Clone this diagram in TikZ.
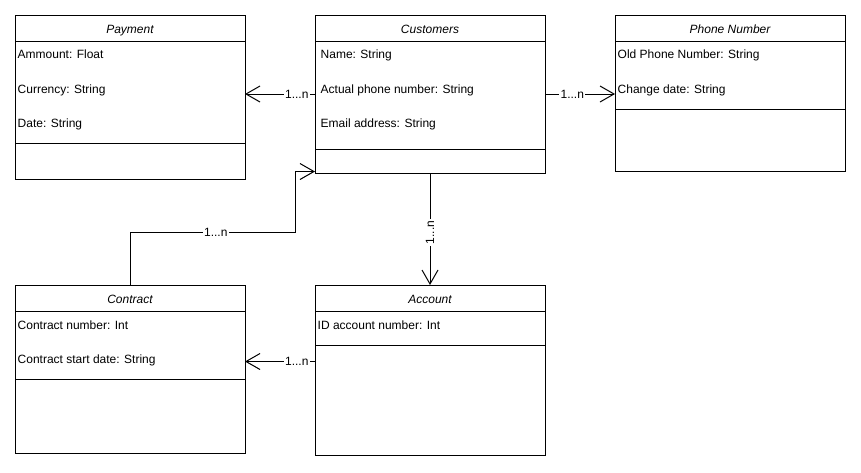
\documentclass[tikz,border=0pt]{standalone}
\usepackage{fontspec}
\setmainfont{Liberation Sans}
\usetikzlibrary{arrows.meta,calc}
\begin{document}
\begin{tikzpicture}[x=1pt,y=-1pt,
  every node/.style={font=\fontsize{12}{14}\selectfont},
  classbox/.style={draw=black, line width=1pt, anchor=north west,
    minimum width=230pt, inner sep=0pt, outer sep=0pt},
  sepline/.style={draw=black, line width=1pt},
  title/.style={anchor=base, inner sep=0pt, font=\fontsize{12}{14}\selectfont\itshape},
  attr/.style={anchor=base west, inner sep=0pt},
  assoc/.style={draw=black, line width=1pt,
    -{Straight Barb[length=14pt,width=16pt,line width=1pt]}},
  mult/.style={fill=white, inner sep=1.5pt}
]
\useasboundingbox[fill=white] (0,0) rectangle (861,472);

% ---------- Payment ----------
\node[classbox, minimum height=164pt] (pay) at (15,15) {};
\draw[sepline] ($(pay.north west)+(0,26.5)$) -- ($(pay.north east)+(0,26.5)$);
\draw[sepline] ($(pay.north west)+(0,128.5)$) -- ($(pay.north east)+(0,128.5)$);
\node[title] (payT) at ($(pay.north)+(0,18)$) {Payment};
\node[attr] (pay1) at ($(pay.north west)+(2.5,43.5)$) {Ammount: Float};
\node[attr] (pay2) at ($(pay.north west)+(2.5,78)$) {Currency: String};
\node[attr] (pay3) at ($(pay.north west)+(2.5,112)$) {Date: String};

% ---------- Customers ----------
\node[classbox, minimum height=158pt] (cust) at (315,15) {};
\draw[sepline] ($(cust.north west)+(0,26.5)$) -- ($(cust.north east)+(0,26.5)$);
\draw[sepline] ($(cust.north west)+(0,134)$) -- ($(cust.north east)+(0,134)$);
\node[title] (custT) at ($(cust.north)+(0,18)$) {Customers};
\node[attr] (cust1) at ($(cust.north west)+(5.5,43.5)$) {Name: String};
\node[attr] (cust2) at ($(cust.north west)+(5.5,78)$) {Actual phone number: String};
\node[attr] (cust3) at ($(cust.north west)+(5.5,112)$) {Email address: String};

% ---------- Phone Number ----------
\node[classbox, minimum height=156.5pt] (phone) at (615,15) {};
\draw[sepline] ($(phone.north west)+(0,26.5)$) -- ($(phone.north east)+(0,26.5)$);
\draw[sepline] ($(phone.north west)+(0,94)$) -- ($(phone.north east)+(0,94)$);
\node[title] (phoneT) at ($(phone.north)+(0,18)$) {Phone Number};
\node[attr] (phone1) at ($(phone.north west)+(2.5,43.5)$) {Old Phone Number: String};
\node[attr] (phone2) at ($(phone.north west)+(2.5,78)$) {Change date: String};

% ---------- Contract ----------
\node[classbox, minimum height=168pt] (con) at (15,285) {};
\draw[sepline] ($(con.north west)+(0,26.5)$) -- ($(con.north east)+(0,26.5)$);
\draw[sepline] ($(con.north west)+(0,94)$) -- ($(con.north east)+(0,94)$);
\node[title] (conT) at ($(con.north)+(0,18)$) {Contract};
\node[attr] (con1) at ($(con.north west)+(2.5,44)$) {Contract number: Int};
\node[attr] (con2) at ($(con.north west)+(2.5,78)$) {Contract start date: String};

% ---------- Account ----------
\node[classbox, minimum height=170pt] (acc) at (315,285) {};
\draw[sepline] ($(acc.north west)+(0,26.5)$) -- ($(acc.north east)+(0,26.5)$);
\draw[sepline] ($(acc.north west)+(0,60)$) -- ($(acc.north east)+(0,60)$);
\node[title] (accT) at ($(acc.north)+(0,18)$) {Account};
\node[attr] (acc1) at ($(acc.north west)+(2.5,44)$) {ID account number: Int};

% ---------- Associations ----------
\draw[assoc] (cust.west) -- node[mult, pos=0.26] {1...n} (cust.west -| pay.east);
\draw[assoc] (cust.east) -- node[mult, pos=0.39] {1...n} (cust.east -| phone.west);
\draw[assoc] (cust.south) -- node[mult, pos=0.53, rotate=90] {1...n} (acc.north);

\coordinate (k1) at (295,232);
\coordinate (k2) at ($(cust.south west)+(0,-1.5)$);
\draw[assoc] (con.north) |- node[mult, pos=0.76] {1...n} (k1) |- (k2);

\coordinate (k3) at ($(acc.north west)+(0,76.5)$);
\draw[assoc] (k3) -- node[mult, pos=0.26] {1...n} (k3 -| con.east);
\end{tikzpicture}
\end{document}
